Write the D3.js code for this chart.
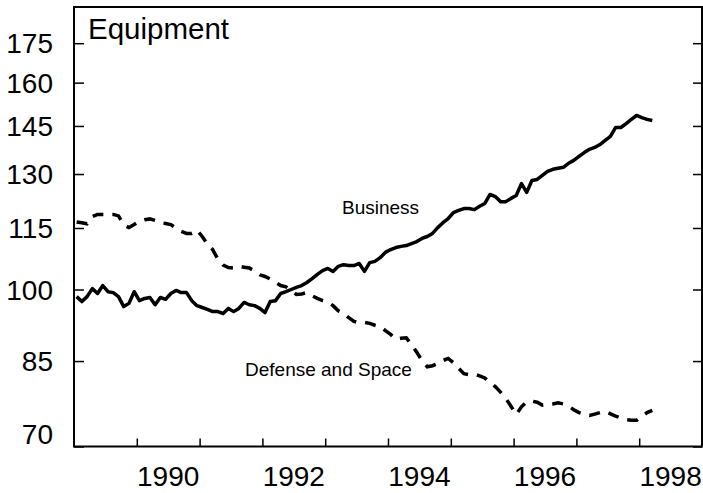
<!DOCTYPE html>
<html>
<head>
<meta charset="utf-8">
<script src="https://cdn.jsdelivr.net/npm/d3@7"></script>
<style>
  body { margin: 0; background: #fff; }
  svg { display: block; }
</style>
</head>
<body>
<div id="chart"></div>
<script>
// monthly index, Jan 1989 = 0
var startYear = 1989;

// Business equipment (index, log scale)
var business = [
  98.4, 97.3, 98.4, 100.2, 99.1, 100.9, 99.5, 99.3, 98.4, 96.2, 96.9, 99.5,
  97.5, 98.0, 98.2, 96.6, 98.2, 97.8, 99.1, 99.8, 99.3, 99.3, 97.5, 96.4,
  96.0, 95.6, 95.1, 95.1, 94.7, 95.8, 95.1, 95.8, 97.1, 96.6, 96.4, 95.8,
  94.9, 97.3, 97.5, 99.1, 99.5, 100.0, 100.5, 100.9, 101.6, 102.5, 103.5, 104.4,
  104.9, 104.2, 105.4, 105.8, 105.6, 105.6, 106.1, 104.2, 106.3, 106.6, 107.5, 108.8,
  109.5, 110.0, 110.3, 110.5, 111.0, 111.5, 112.3, 112.8, 113.6, 115.1, 116.4, 117.5,
  119.1, 119.7, 120.2, 120.2, 119.9, 120.8, 121.6, 124.1, 123.5, 122.1, 122.1, 123.0,
  123.8, 127.2, 124.7, 128.1, 128.4, 129.6, 130.8, 131.4, 131.7, 132.0, 133.2, 134.1,
  135.3, 136.5, 137.5, 138.1, 139.0, 140.3, 141.6, 144.5, 144.5, 145.8, 147.2, 148.5,
  147.8, 147.2, 146.8
];

// Defense and space equipment
var defense = [
  116.6, 116.4, 116.1, 118.0, 118.6, 118.6, 118.6, 118.6, 118.2, 115.8, 115.1, 115.9,
  116.8, 117.2, 117.4, 117.0, 116.4, 116.2, 115.9, 115.0, 114.1, 113.6, 113.6, 114.4,
  112.8, 110.9, 109.5, 107.1, 105.7, 105.1, 105.0, 105.4, 105.2, 105.0, 104.3, 103.4,
  103.0, 102.4, 101.6, 100.9, 100.6, 99.8, 98.9, 99.0, 99.3, 98.6, 98.0, 97.5,
  97.2, 96.4, 95.3, 94.7, 93.8, 93.0, 92.7, 92.8, 92.6, 92.2, 91.9, 91.1,
  90.3, 89.3, 89.5, 89.6, 88.2, 86.7, 85.1, 83.9, 84.1, 84.5, 85.1, 85.5,
  84.7, 83.6, 82.6, 82.4, 82.5, 82.2, 81.8, 80.9, 80.2, 79.2, 78.1, 76.7,
  75.3, 76.6, 77.5, 77.6, 77.4, 76.9, 77.0, 77.1, 77.3, 77.1, 76.7, 76.1,
  75.6, 75.3, 75.1, 75.35, 75.6, 75.8, 75.4, 75.0, 74.7, 74.4, 74.3, 74.3,
  75.0, 75.6, 76.0
];

var yTicks = [70, 85, 100, 115, 130, 145, 160, 175];
var xTicks = [1990, 1991, 1992, 1993, 1994, 1995, 1996, 1997, 1998];
var xLabels = [1990, 1992, 1994, 1996, 1998];

var width = 703, height = 493;
var plotLeft = 74, plotRight = 702, plotTop = 7, plotBottom = 446.5;
var font = "'Liberation Sans', Arial, Helvetica, sans-serif";

var x = d3.scaleLinear().domain([1989, 1999]).range([plotLeft, plotRight]);
var y = d3.scaleLog().domain([70, 190]).range([plotBottom, plotTop]);

function monthX(d, i) { return x(startYear + (i + 0.5) / 12); }

var svg = d3.select("#chart")
  .append("svg")
  .attr("width", width)
  .attr("height", height);

// left axis with labels
var yAxisL = svg.append("g")
  .attr("transform", "translate(" + plotLeft + ",0)")
  .call(d3.axisLeft(y).tickValues(yTicks).tickSize(-10).tickPadding(21).tickFormat(d3.format("d")));

yAxisL.selectAll("text")
  .attr("font-family", font)
  .attr("font-size", 28)
  .attr("fill", "#000")
  .attr("dy", "0.34em");

// 70 sits on the bottom edge, label nudged up
yAxisL.selectAll(".tick")
  .filter(function(d) { return d === 70; })
  .select("text")
  .attr("y", -13);

// right axis, ticks only
svg.append("g")
  .attr("transform", "translate(" + plotRight + ",0)")
  .call(d3.axisRight(y).tickValues(yTicks).tickSize(-9).tickFormat(""));

// bottom ticks
svg.append("g")
  .attr("transform", "translate(0," + plotBottom + ")")
  .call(d3.axisBottom(x).tickValues(xTicks).tickSize(-8).tickFormat(""));

svg.selectAll(".domain").remove();
svg.selectAll(".tick line")
  .attr("stroke", "#000")
  .attr("stroke-width", 1.5);

// year labels centred in each year
svg.selectAll(".xlabel")
  .data(xLabels)
  .enter()
  .append("text")
  .attr("class", "xlabel")
  .attr("x", function(d) { return x(d + 0.5); })
  .attr("y", 486)
  .attr("text-anchor", "middle")
  .attr("font-family", font)
  .attr("font-size", 28)
  .text(function(d) { return d; });

// frame
svg.append("rect")
  .attr("x", plotLeft)
  .attr("y", plotTop)
  .attr("width", plotRight - plotLeft)
  .attr("height", plotBottom - plotTop)
  .attr("fill", "none")
  .attr("stroke", "#000")
  .attr("stroke-width", 2);

var line = d3.line()
  .x(monthX)
  .y(function(d) { return y(d); });

svg.append("path")
  .datum(business)
  .attr("d", line)
  .attr("fill", "none")
  .attr("stroke", "#000")
  .attr("stroke-width", 3.5)
  .attr("stroke-linejoin", "round");

svg.append("path")
  .datum(defense)
  .attr("d", line)
  .attr("fill", "none")
  .attr("stroke", "#000")
  .attr("stroke-width", 3.5)
  .attr("stroke-dasharray", "11,9");

svg.append("text")
  .attr("x", 88)
  .attr("y", 39)
  .attr("font-family", font)
  .attr("font-size", 29.5)
  .text("Equipment");

svg.append("text")
  .attr("x", 342)
  .attr("y", 214)
  .attr("font-family", font)
  .attr("font-size", 19)
  .text("Business");

svg.append("text")
  .attr("x", 245)
  .attr("y", 376)
  .attr("font-family", font)
  .attr("font-size", 19)
  .text("Defense and Space");
</script>
</body>
</html>
